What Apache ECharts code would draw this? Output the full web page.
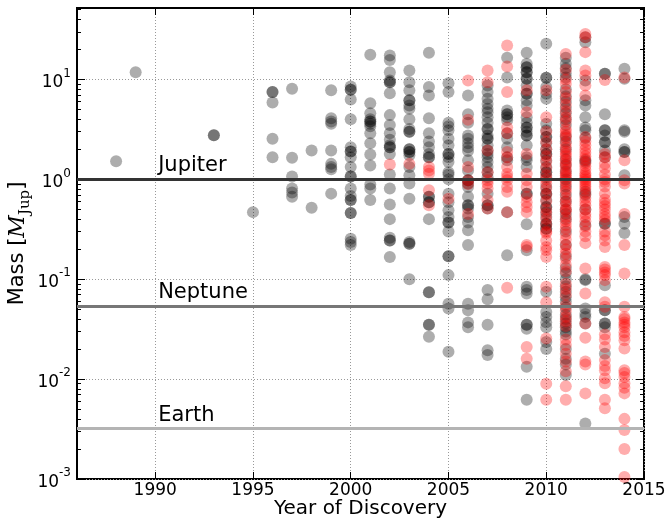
<!DOCTYPE html>
<html lang="en">
<head>
<meta charset="UTF-8">
<title>Exoplanet masses by year of discovery</title>
<script src="https://cdn.jsdelivr.net/npm/echarts@6/dist/echarts.min.js"></script>
<style>html,body{margin:0;padding:0;background:#fff}</style>
</head>
<body>
<div id="main" style="width:668px;height:519px"></div>
<script type="text/javascript">
// masses in Jupiter masses, one list per discovery year
// gray = radial velocity & others, red = transit
var gray1988 = [1.52];
var gray1989 = [11.8];
var gray1993 = [2.76, 2.76];
var gray1995 = [0.47];
var gray1996 = [7.5, 7.5, 5.9, 2.55, 1.67];
var gray1997 = [8.1, 1.65, 1.07, 0.81, 0.74, 0.67];
var gray1998 = [1.95, 0.52];
var gray1999 = [7.8, 4.1, 3.8, 3.6, 1.95, 1.43, 1.33, 1.26, 0.72];
var gray2000 = [8.5, 7.9, 7.9, 6.3, 4.0, 2.1, 1.9, 1.9, 1.67, 1.33, 1.07, 1.07, 0.81, 0.68, 0.62, 0.62, 0.46, 0.46, 0.255, 0.236, 0.22];
var gray2001 = [17.7, 5.8, 4.6, 4.0, 3.8, 3.8, 3.6, 3.4, 2.9, 2.3, 1.77, 1.38, 0.89, 0.81, 0.62];
var gray2002 = [17.4, 15.7, 11.8, 9.8, 9.4, 9.4, 7.3, 4.4, 3.5, 2.9, 2.5, 2.2, 2.1, 2.1, 1.8, 1.12, 0.81, 0.56, 0.40, 0.26, 0.245, 0.245, 0.167];
var gray2003 = [12.3, 9.4, 7.8, 6.2, 6.2, 5.5, 5.1, 4.0, 3.2, 3.0, 3.0, 2.0, 2.0, 1.88, 1.88, 1.74, 1.33, 1.1, 0.91, 0.64, 0.236, 0.227, 0.227, 0.10];
var gray2004 = [18.5, 8.4, 6.9, 4.1, 2.9, 2.4, 2.1, 1.8, 1.67, 1.67, 0.67, 0.67, 0.59, 0.59, 0.40, 0.074, 0.074, 0.035, 0.035, 0.0265];
var gray2005 = [9.2, 7.5, 3.7, 3.4, 3.1, 2.55, 2.2, 1.8, 1.8, 1.67, 1.49, 1.18, 1.12, 1.0, 0.72, 0.59, 0.49, 0.42, 0.37, 0.37, 0.30, 0.17, 0.17, 0.11, 0.057, 0.051, 0.0188];
var gray2006 = [6.9, 4.5, 3.7, 2.75, 2.55, 2.3, 2.1, 1.92, 1.55, 1.23, 0.98, 0.98, 0.91, 0.84, 0.67, 0.55, 0.55, 0.51, 0.42, 0.37, 0.31, 0.22, 0.057, 0.049, 0.037, 0.033];
var gray2007 = [8.7, 7.5, 6.4, 5.7, 5.1, 4.7, 4.2, 3.7, 3.2, 3.2, 2.75, 2.55, 2.55, 2.2, 1.95, 1.8, 1.67, 1.49, 1.33, 1.18, 1.05, 0.72, 0.55, 0.55, 0.51, 0.078, 0.063, 0.035, 0.0195, 0.0174];
var gray2008 = [16.5, 10.5, 4.9, 4.5, 4.5, 4.2, 3.9, 2.9, 2.55, 2.1, 1.67, 1.55, 0.47, 0.174];
var gray2009 = [18.5, 14.4, 13.3, 13.3, 11.8, 11.8, 10.2, 10.2, 8.7, 7.2, 7.2, 6.2, 5.5, 4.2, 3.7, 3.3, 3.3, 3.0, 2.75, 2.75, 2.2, 1.67, 1.55, 1.33, 0.72, 0.72, 0.355, 0.195, 0.084, 0.078, 0.072, 0.035, 0.035, 0.032, 0.0133, 0.0062];
var gray2010 = [22.8, 10.4, 10.4, 8.4, 7.2, 6.4, 3.6, 3.1, 2.65, 2.65, 2.3, 2.0, 1.8, 1.8, 1.55, 1.33, 1.18, 1.18, 1.05, 0.84, 0.72, 0.72, 0.62, 0.53, 0.53, 0.47, 0.42, 0.36, 0.36, 0.32, 0.32, 0.075, 0.047, 0.042, 0.037, 0.033, 0.0236, 0.020];
var gray2011 = [16.5, 14.4, 13.0, 11.5, 10.5, 8.0, 6.8, 6.0, 5.2, 4.6, 4.0, 3.5, 2.7, 2.4, 2.0, 1.6, 1.4, 1.2, 1.0, 0.85, 0.7, 0.6, 0.5, 0.45, 0.4, 0.3, 0.22, 0.17, 0.13, 0.115, 0.1, 0.085, 0.075, 0.066, 0.06, 0.052, 0.044, 0.04, 0.036, 0.033, 0.03, 0.028, 0.02, 0.016, 0.014, 0.011];
var gray2012 = [26.5, 23.6, 9.8, 6.2, 5.5, 4.2, 3.3, 3.1, 2.6, 1.55, 1.5, 0.75, 0.7, 0.5, 0.35, 0.1, 0.098, 0.051, 0.045, 0.042, 0.036, 0.0036];
var gray2013 = [11.4, 11.4, 4.5, 3.1, 3.1, 2.75, 2.36, 2.36, 1.95, 1.67, 0.36, 0.36, 0.087, 0.049, 0.049, 0.036, 0.036, 0.033, 0.018];
var gray2014 = [12.8, 10.2, 3.1, 3.0, 2.0, 1.88, 1.88, 1.1, 0.42, 0.36, 0.29];

var red2002 = [1.41];
var red2003 = [1.43];
var red2004 = [1.33, 1.23, 1.14, 0.78, 0.55];
var red2005 = [0.64];
var red2006 = [9.8, 3.95, 1.33, 0.98, 0.9, 0.45];
var red2007 = [12.3, 9.4, 1.95, 1.18, 0.98, 0.91, 0.81, 0.62, 0.51];
var red2008 = [21.9, 13.5, 7.5, 3.3, 2.9, 1.88, 1.67, 1.33, 1.14, 1.05, 0.98, 0.84, 0.75, 0.47, 0.082];
var red2009 = [7.8, 4.7, 1.8, 1.14, 0.98, 0.84, 0.67, 0.59, 0.53, 0.47, 0.22, 0.21, 0.021, 0.016];
var red2010 = [7.8, 4.2, 3.0, 2.4, 2.0, 1.7, 1.5, 1.3, 1.1, 1.0, 0.91, 0.8, 0.7, 0.6, 0.5, 0.45, 0.4, 0.35, 0.3, 0.29, 0.245, 0.21, 0.195, 0.167, 0.084, 0.059, 0.0255, 0.009, 0.0062];
var red2011 = [18.0, 12.5, 10.0, 9.0, 7.5, 6.5, 5.6, 4.8, 4.2, 3.8, 3.2, 3.0, 2.8, 2.6, 2.3, 2.1, 1.9, 1.8, 1.7, 1.55, 1.45, 1.35, 1.25, 1.15, 1.1, 1.05, 0.95, 0.9, 0.8, 0.75, 0.65, 0.6, 0.55, 0.5, 0.48, 0.42, 0.38, 0.35, 0.32, 0.28, 0.25, 0.22, 0.2, 0.18, 0.16, 0.14, 0.12, 0.09, 0.08, 0.07, 0.055, 0.048, 0.042, 0.038, 0.034, 0.025, 0.022, 0.018, 0.015, 0.012, 0.0085, 0.0062];
var red2012 = [28.6, 26.5, 18.8, 12.3, 11.0, 8.7, 6.9, 2.65, 2.4, 2.2, 2.0, 1.85, 1.7, 1.6, 1.45, 1.35, 1.25, 1.15, 1.1, 1.05, 1.0, 0.95, 0.9, 0.85, 0.8, 0.72, 0.65, 0.6, 0.55, 0.5, 0.45, 0.42, 0.38, 0.34, 0.3, 0.27, 0.23, 0.128, 0.072, 0.036, 0.026, 0.015, 0.014, 0.0072];
var red2013 = [9.9, 1.8, 1.67, 1.43, 1.29, 1.12, 1.0, 0.94, 0.85, 0.72, 0.63, 0.58, 0.54, 0.5, 0.45, 0.42, 0.39, 0.3, 0.275, 0.245, 0.21, 0.133, 0.125, 0.117, 0.11, 0.098, 0.059, 0.053, 0.028, 0.025, 0.021, 0.0155, 0.0135, 0.0123, 0.0102, 0.0091, 0.0062, 0.0051];
var red2014 = [10.5, 1.55, 0.98, 0.91, 0.45, 0.22, 0.114, 0.053, 0.042, 0.04, 0.037, 0.035, 0.033, 0.0295, 0.027, 0.0245, 0.0203, 0.0123, 0.0115, 0.0105, 0.0091, 0.0082, 0.0072, 0.004, 0.0031, 0.002, 0.00105];

var grayYears = [1988, 1989, 1993, 1995, 1996, 1997, 1998, 1999, 2000, 2001, 2002, 2003, 2004, 2005, 2006, 2007, 2008, 2009, 2010, 2011, 2012, 2013, 2014];
var grayLists = [gray1988, gray1989, gray1993, gray1995, gray1996, gray1997, gray1998, gray1999, gray2000, gray2001, gray2002, gray2003, gray2004, gray2005, gray2006, gray2007, gray2008, gray2009, gray2010, gray2011, gray2012, gray2013, gray2014];
var redYears = [2002, 2003, 2004, 2005, 2006, 2007, 2008, 2009, 2010, 2011, 2012, 2013, 2014];
var redLists = [red2002, red2003, red2004, red2005, red2006, red2007, red2008, red2009, red2010, red2011, red2012, red2013, red2014];

// reference planets
var refNames = ['Jupiter', 'Neptune', 'Earth'];
var refMass = [1.0, 0.054, 0.0032];

var xTicks = [1990, 1995, 2000, 2005, 2010, 2015];
var yTicks = [0.001, 0.01, 0.1, 1, 10];

// ---------------------------------------------------------------
var FONT = 'DejaVu Sans';
var xMin = 1986, xMax = 2015, yMin = 0.001, yMax = 52;
var refColors = ['#333333', '#777777', '#b4b4b4'];
var refLabelX = 1990.15;

function pairs(years, lists) {
    var out = [];
    for (var i = 0; i < years.length; i++) {
        for (var j = 0; j < lists[i].length; j++) out.push([years[i], lists[i][j]]);
    }
    return out;
}

var yMinor = [];
for (var e = -3; e <= 1; e++) {
    for (var k = 2; k <= 9; k++) {
        var v = Number((k * Math.pow(10, e)).toPrecision(3));
        if (v < yMax) yMinor.push(v);
    }
}

function yAx(pos, ticks, len, main) {
    return {
        type: 'log', logBase: 10, min: yMin, max: yMax, position: pos,
        axisLine: { show: false },
        axisTick: { show: true, inside: true, length: len, customValues: ticks, lineStyle: { color: '#000', width: 1 } },
        axisLabel: main ? {
            show: true, customValues: yTicks, margin: 6,
            formatter: function (v) { return '{b|10}{s|' + Math.round(Math.log10(v)) + '}'; },
            rich: {
                b: { fontSize: 17, fontFamily: FONT, color: '#000', lineHeight: 24, verticalAlign: 'bottom' },
                s: { fontSize: 12, fontFamily: FONT, color: '#000', lineHeight: 14, verticalAlign: 'top' }
            }
        } : { show: false },
        splitLine: { show: !!main, lineStyle: { color: '#999', width: 1, type: [1, 2] } },
        name: main ? '{a|Mass }{a|[}{m|M}{j|Jup}{a|]}' : '',
        nameLocation: 'middle', nameRotate: 90, nameGap: 44, nameMoveOverlap: false,
        nameTextStyle: {
            rich: {
                a: { fontSize: 21, fontFamily: FONT, color: '#000', lineHeight: 30, verticalAlign: 'middle' },
                m: { fontSize: 22, fontFamily: 'DejaVu Serif', fontStyle: 'italic', color: '#000', lineHeight: 30, verticalAlign: 'middle' },
                j: { fontSize: 15, fontFamily: 'DejaVu Serif', color: '#000', lineHeight: 18, verticalAlign: 'bottom' }
            }
        }
    };
}

var series = [
    { type: 'scatter', data: pairs(grayYears, grayLists), symbolSize: 12,
      itemStyle: { color: 'rgba(0,0,0,0.4)' }, silent: true, z: 2 },
    { type: 'scatter', data: pairs(redYears, redLists), symbolSize: 12,
      itemStyle: { color: 'rgba(255,0,0,0.4)' }, silent: true, z: 3 },
    { type: 'line', data: [], z: 4,
      markLine: {
          silent: true, symbol: 'none', animation: false, precision: 6,
          label: { show: false },
          data: refMass.map(function (m, i) {
              return { yAxis: m, lineStyle: { color: refColors[i], width: 3, type: 'solid' } };
          })
      } },
    { type: 'scatter', symbolSize: 0, z: 5, silent: true,
      data: refMass.map(function (m, i) { return { value: [refLabelX, m], name: refNames[i] }; }),
      label: { show: true, position: 'top', align: 'left', distance: 3,
               formatter: '{b}', fontSize: 21, fontFamily: FONT, color: '#000', opacity: 1 },
      itemStyle: { opacity: 1 } }
];

var chart = echarts.init(document.getElementById('main'), null, { renderer: 'canvas' });
chart.setOption({
    animation: false,
    backgroundColor: '#fff',
    grid: { left: 77, right: 24, top: 8, bottom: 40, show: true, borderColor: '#000', borderWidth: 2,
            backgroundColor: 'transparent', containLabel: false, outerBoundsMode: 'none' },
    xAxis: [
        { type: 'value', min: xMin, max: xMax, position: 'bottom',
          axisLine: { show: false },
          axisTick: { show: true, inside: true, length: 7, customValues: xTicks, lineStyle: { color: '#000' } },
          axisLabel: { customValues: xTicks, fontSize: 17, fontFamily: FONT, color: '#000', margin: 3,
                       formatter: function (v) { return String(v); } },
          splitLine: { show: true, lineStyle: { color: '#999', width: 1, type: [1, 2] } },
          name: 'Year of Discovery', nameLocation: 'middle', nameGap: 20, nameMoveOverlap: false,
          nameTextStyle: { fontSize: 20, fontFamily: FONT, color: '#000' } },
        { type: 'value', min: xMin, max: xMax, position: 'top',
          axisLine: { show: false },
          axisTick: { show: true, inside: true, length: 7, customValues: xTicks, lineStyle: { color: '#000' } },
          axisLabel: { show: false }, splitLine: { show: false } }
    ],
    yAxis: [
        yAx('left', yTicks, 8, true),
        yAx('right', yTicks, 8, false),
        yAx('left', yMinor, 4, false),
        yAx('right', yMinor, 4, false)
    ],
    series: series
});
</script>
</body>
</html>
